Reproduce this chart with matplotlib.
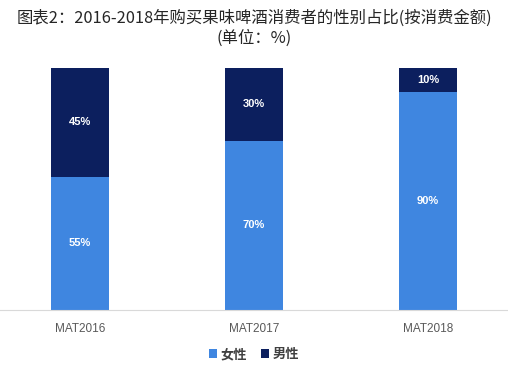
import matplotlib.pyplot as plt
import numpy as np

plt.rcParams['font.family'] = ['Noto Sans CJK SC', 'DejaVu Sans']

categories = ["MAT2016", "MAT2017", "MAT2018"]
female = [55, 70, 90]
male = [45, 30, 10]

c_female = "#3F86E0"
c_male = "#0C1F5E"

fig = plt.figure(figsize=(5.08, 3.74), dpi=100)
ax = fig.add_axes([0, 0.1711, 1, 0.647])

x = np.arange(len(categories))
w = 0.333
b1 = ax.bar(x, female, w, color=c_female, label="女性")
b2 = ax.bar(x, male, w, bottom=female, color=c_male, label="男性")

for i in range(len(x)):
    ax.text(x[i], female[i] / 2, f"{female[i]}%", ha="center", va="center",
            color="white", fontsize=8, fontweight="bold", family="Liberation Sans")
    ax.text(x[i], female[i] + male[i] / 2, f"{male[i]}%", ha="center", va="center",
            color="white", fontsize=8, fontweight="bold", family="Liberation Sans")

ax.set_xlim(-80 / 174, 2 + 80 / 174)
ax.set_ylim(0, 100)
ax.set_xticks(x)
ax.set_xticklabels(categories, color="#595959", fontsize=8.5, family="Liberation Sans")
ax.tick_params(axis="x", length=0, pad=9)
ax.set_yticks([])
for s in ["top", "left", "right"]:
    ax.spines[s].set_visible(False)
ax.spines["bottom"].set_color("#D9D9D9")

fig.text(0.5, 0.952, "图表2：2016-2018年购买果味啤酒消费者的性别占比(按消费金额)",
         ha="center", va="center", fontsize=11.8, color="#262626")
fig.text(0.5, 0.897, "(单位：%)", ha="center", va="center", fontsize=11.8, color="#262626")

fig.legend(handles=[b1, b2], loc="center", bbox_to_anchor=(0.5, 0.053), ncol=2,
           frameon=False, handlelength=0.6, handleheight=0.6,
           handletextpad=0.3, columnspacing=1.0,
           prop={"size": 9.5, "weight": "bold"}, labelcolor="#404040")

fig.savefig("out.png", dpi=100)
